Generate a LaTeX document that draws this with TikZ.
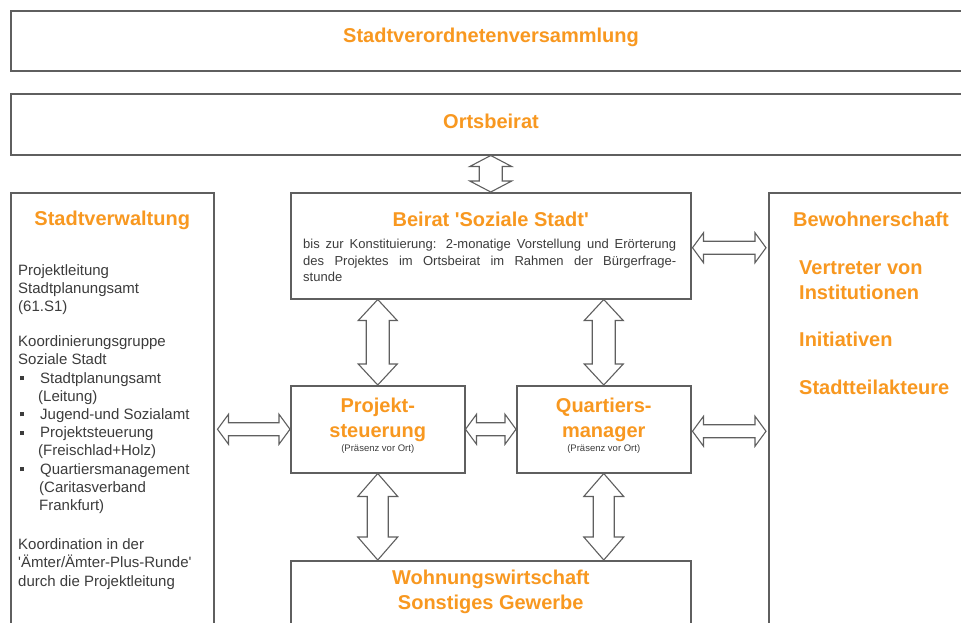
\documentclass[tikz,border=0pt]{standalone}
\usepackage{fontspec}
\setmainfont{Liberation Sans}
\usetikzlibrary{calc,positioning}

\definecolor{boxgray}{RGB}{95,95,95}
\definecolor{orangetxt}{RGB}{248,152,32}
\definecolor{textgray}{RGB}{60,60,60}

\tikzset{
  box/.style={draw=boxgray,line width=1.5pt,fill=white,inner sep=0pt,anchor=north west},
  head/.style={font=\bfseries\fontsize{20}{25}\selectfont,text=orangetxt,align=center,inner sep=0pt},
  body/.style={font=\fontsize{15}{18.2}\selectfont,text=textgray,align=left,inner sep=0pt,anchor=north west},
  small/.style={font=\fontsize{9.5}{11}\selectfont,text=textgray,inner sep=0pt},
  barrow/.style={draw=boxgray,line width=1.1pt,fill=white}
}

% hollow double arrows: from, to, shaft half width, head half width, head length
\newcommand\vblock[5]{%
  \draw[barrow] let \p1=(#1), \p2=(#2) in
    (\x1,\y1) -- (\x1+#4,\y1-#5) -- (\x1+#3,\y1-#5) -- (\x1+#3,\y2+#5)
    -- (\x1+#4,\y2+#5) -- (\x1,\y2) -- (\x1-#4,\y2+#5) -- (\x1-#3,\y2+#5)
    -- (\x1-#3,\y1-#5) -- (\x1-#4,\y1-#5) -- cycle;}
\newcommand\hblock[5]{%
  \draw[barrow] let \p1=(#1), \p2=(#2) in
    (\x1,\y1) -- (\x1+#5,\y1+#4) -- (\x1+#5,\y1+#3) -- (\x2-#5,\y1+#3)
    -- (\x2-#5,\y1+#4) -- (\x2,\y1) -- (\x2-#5,\y1-#4) -- (\x2-#5,\y1-#3)
    -- (\x1+#5,\y1-#3) -- (\x1+#5,\y1-#4) -- cycle;}
\newcommand\bul{\makebox[22pt][l]{\hspace{2pt}\rule[3pt]{4pt}{4pt}}}
\newcommand\sq{\textquotesingle}

\begin{document}
\begin{tikzpicture}[x=1pt,y=-1pt]
  \useasboundingbox (0,0) rectangle (961,622);
  \clip (0,0) rectangle (961,622);

  % boxes
  \node[box,minimum width=962pt,minimum height=60pt] (svv) at (10,10) {};
  \node[box,minimum width=962pt,minimum height=61pt] (ort) at (10,93) {};
  \node[box,minimum width=203pt,minimum height=450pt] (verw) at (10,192) {};
  \node[box,minimum width=400pt,minimum height=106pt] (beirat) at (290,192) {};
  \node[box,minimum width=214pt,minimum height=450pt] (bew) at (768,192) {};
  \node[box,minimum width=174pt,minimum height=87pt] (proj) at (290,385) {};
  \node[box,minimum width=174pt,minimum height=87pt] (quart) at (516,385) {};
  \node[box,minimum width=400pt,minimum height=90pt] (wohn) at (290,560) {};

  \node[head] (svvhead) at (491,37) {Stadtverordnetenversammlung};
  \node[head] (orthead) at (491,121) {Ortsbeirat};

  % Stadtverwaltung
  \node[head] (verwhead) at ($(verw.north)+(0,28)$) {Stadtverwaltung};
  \node[body] (verwtext) at (18,264) {Projektleitung\\Stadtplanungsamt\\(61.S1)\\[17pt]
    Koordinierungsgruppe\\Soziale Stadt\\
    \bul Stadtplanungsamt\\\hspace*{20pt}(Leitung)\\
    \bul Jugend-und Sozialamt\\
    \bul Projektsteuerung\\\hspace*{20pt}(Freischlad+Holz)\\
    \bul Quartiersmanagement\\\hspace*{21pt}(Caritasverband\\\hspace*{21pt}Frankfurt)\\[21pt]
    Koordination in der\\\sq Ämter/Ämter-Plus-Runde\sq\\durch die Projektleitung};

  % Beirat
  \node[head] (beirathead) at ($(beirat.north)+(0,27)$) {Beirat \sq Soziale Stadt\sq};
  \node[body,font=\fontsize{13}{16.5}\selectfont,text width=373pt,align=justify] (beirattext) at (303,239)
    {bis zur Konstituierung: 2-monatige Vorstellung und Erörterung\linebreak
     des Projektes im Ortsbeirat im Rahmen der Bürgerfrage-\linebreak stunde};

  % Bewohnerschaft
  \node[head,anchor=west] (bewhead) at (793,219) {Bewohnerschaft};
  \node[head,anchor=north west,align=left] (bewtext) at (799,261)
    {Vertreter von\\Institutionen\\[22pt]Initiativen\\[23pt]Stadtteilakteure};

  % Projektsteuerung / Quartiersmanager
  \node[head] (projhead) at ($(proj.north)+(0,35)$) {Projekt-\\steuerung};
  \node[small,below=2pt of projhead] (projsmall) {(Präsenz vor Ort)};
  \node[head] (quarthead) at ($(quart.north)+(0,35)$) {Quartiers-\\manager};
  \node[small,below=2pt of quarthead] (quartsmall) {(Präsenz vor Ort)};

  % Wohnungswirtschaft
  \node[head] (wohnhead) at ($(wohn.north)+(0,32)$) {Wohnungswirtschaft\\Sonstiges Gewerbe};

  % arrows
  \vblock{ort.south -| beirat.north}{beirat.north}{11.5pt}{21pt}{11pt}
  \vblock{beirat.south -| proj.north}{proj.north}{11.5pt}{19.5pt}{21pt}
  \vblock{beirat.south -| quart.north}{quart.north}{11.5pt}{19.5pt}{21pt}
  \vblock{proj.south}{wohn.north -| proj.south}{10.5pt}{20pt}{23pt}
  \vblock{quart.south}{wohn.north -| quart.south}{10.5pt}{20pt}{23pt}
  \hblock{$(verw.east |- proj.west)+(3,0)$}{proj.west}{6.5pt}{15pt}{11pt}
  \hblock{proj.east}{quart.west}{6.5pt}{15pt}{11pt}
  \hblock{$(beirat.east)+(1,2)$}{$(beirat.east -| bew.west)+(-2,2)$}{6.5pt}{15pt}{11pt}
  \hblock{$(quart.east)+(1,2)$}{$(quart.east -| bew.west)+(-2,2)$}{6.5pt}{15pt}{11pt}
\end{tikzpicture}
\end{document}
